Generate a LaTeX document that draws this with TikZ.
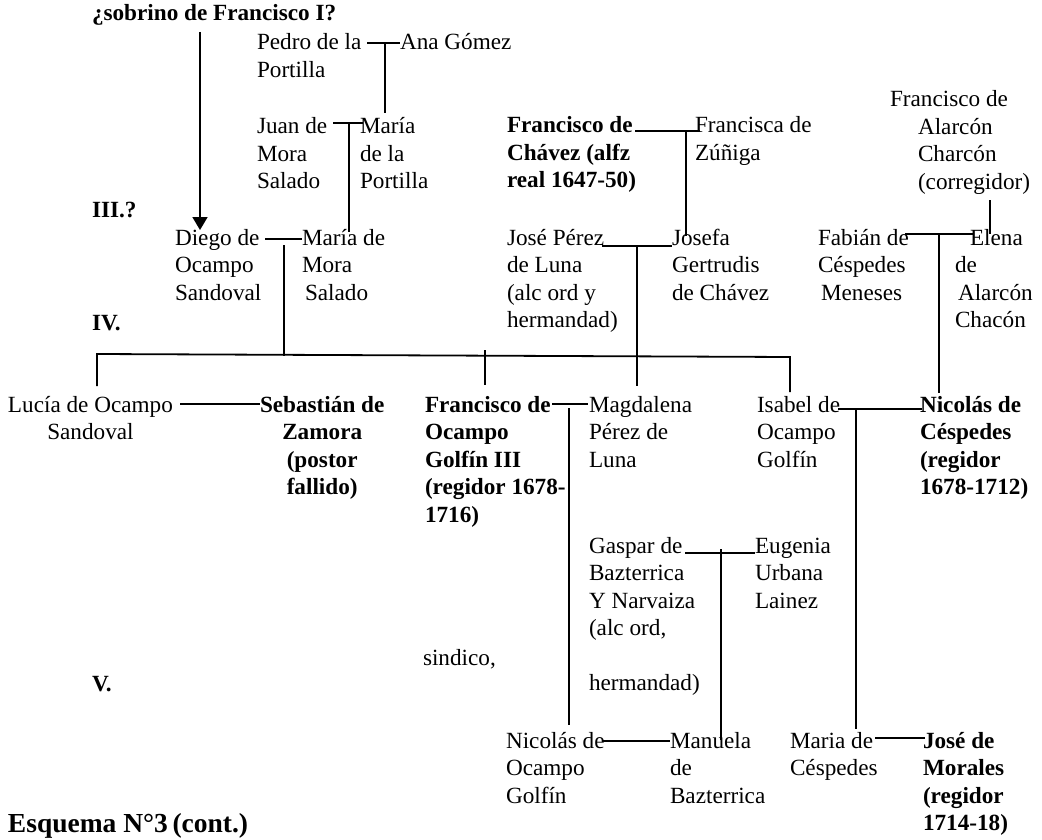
\documentclass[tikz,border=0pt]{standalone}
\usepackage{fontspec}
\setmainfont{Liberation Serif}
\usetikzlibrary{arrows.meta}
\newcommand\firstln{\rule{0pt}{20pt}}
\begin{document}
\begin{tikzpicture}[x=1pt,y=-1pt,
  link/.style={line width=1.8pt,black},
]
\useasboundingbox (0,0) rectangle (1042,840);

\begin{scope}[every node/.style={inner sep=0pt,outer sep=0pt,anchor=north west,yshift=20pt,align=left,
    font=\fontsize{23.2}{27.5}\selectfont},
  bnode/.style={font=\fontsize{23.2}{27.5}\selectfont\bfseries},
  cnode/.style={align=center}]
% generation labels
\node[bnode] (sob) at (92,21) {\firstln¿sobrino de Francisco I?};
\node[bnode] (gIII) at (92,217) {\firstln III.?};
\node[bnode] (gIV) at (92,330) {\firstln IV.};
\node[bnode] (gV) at (92,691) {\firstln V.};
\node[font=\fontsize{27.5}{30}\selectfont\bfseries] (esq) at (8,832) {\firstln Esquema N°3\,(cont.)};

% persons
\node (pedro) at (257,50) {\firstln Pedro de la\\Portilla};
\node (ana) at (400,50) {\firstln Ana Gómez};
\node (juan) at (257,134) {\firstln Juan de\\Mora\\Salado};
\node (mariaP) at (360,134) {\firstln María\\de la\\Portilla};
\node (diego) at (175,245) {\firstln Diego de\\Ocampo\\Sandoval};
\node (mariaM) at (302,245) {\firstln María de\\Mora\\\hspace*{3pt}Salado};
\node[bnode] (fchavez) at (507,133) {\firstln Francisco de\\Chávez (alfz\\real 1647-50)};
\node (francisca) at (695,133) {\firstln Francisca de\\Zúñiga};
\node (jose) at (507,245) {\firstln José Pérez\\de Luna\\(alc ord y\\hermandad)};
\node (josefa) at (672,245) {\firstln Josefa\\Gertrudis\\de Chávez};
\node (falarcon) at (890,107) {\firstln Francisco de\\\hspace*{28pt}Alarcón\\\hspace*{28pt}Charcón\\\hspace*{28pt}(corregidor)};
\node (fabian) at (818,245) {\firstln Fabián de\\Céspedes\\\hspace*{3pt}Meneses};
\node (elena) at (955,245) {\firstln\hspace*{15pt}Elena\\de\\\hspace*{3pt}Alarcón\\Chacón};
\node[cnode] (lucia) at (8,412) {\firstln Lucía de Ocampo\\Sandoval};
\node[bnode,cnode] (sebastian) at (260,412) {\firstln Sebastián de\\Zamora\\(postor\\fallido)};
\node[bnode] (focampo) at (425,412) {\firstln Francisco de\\Ocampo\\Golfín III\\(regidor 1678-\\1716)};
\node (magdalena) at (589,412) {\firstln Magdalena\\Pérez de\\Luna};
\node (isabel) at (757,412) {\firstln Isabel de\\Ocampo\\Golfín};
\node[bnode] (nicolasC) at (920,412) {\firstln Nicolás de\\Céspedes\\(regidor\\1678-1712)};
\node (gaspar) at (589,553) {\firstln Gaspar de\\Bazterrica\\Y Narvaiza\\(alc ord,\\[27.5pt]hermandad)};
\node (eugenia) at (755,553) {\firstln Eugenia\\Urbana\\Lainez};
\node (sindico) at (423,665) {\firstln sindico,};
\node (nicolasO) at (506,748) {\firstln Nicolás de\\Ocampo\\Golfín};
\node (manuela) at (670,748) {\firstln Manuela\\de\\Bazterrica};
\node (mariaC) at (790,748) {\firstln Maria de\\Céspedes};
\node[bnode] (josem) at (923,748) {\firstln José de\\Morales\\(regidor\\1714-18)};
\end{scope}

% arrow
\coordinate (arrS) at (200,32);
\coordinate (arrE) at (200,230);
\draw[link,-{Triangle[length=13pt,width=15pt]}] (arrS) -- (arrE);

% Pedro -- Ana
\coordinate (pa1) at (367,43); \coordinate (pa2) at (400,43); \coordinate (pa) at (385,43);
\coordinate (paE) at (385,113);
\draw[link] (pa1) -- (pa2);
\draw[link] (pa) -- (paE);

% Juan -- Maria
\coordinate (jm1) at (333,123); \coordinate (jm2) at (363,123); \coordinate (jm) at (349,123);
\coordinate (jmE) at (349,232);
\draw[link] (jm1) -- (jm2);
\draw[link] (jm) -- (jmE);

% Diego -- Maria
\coordinate (dm1) at (265,239); \coordinate (dm2) at (302,239); \coordinate (dm) at (284,245);
\coordinate (dmE) at (284,356);
\draw[link] (dm1) -- (dm2);
\draw[link] (dm) -- (dmE);

% siblings
\coordinate (sL) at (97,386); \coordinate (sLt) at (97,354);
\coordinate (sRt) at (790,357); \coordinate (sR) at (790,392);
\draw[link] (sL) -- (sLt) -- (sRt) -- (sR);
\coordinate (sF) at (485,350); \coordinate (sFE) at (485,385);
\draw[link] (sF) -- (sFE);

% Chavez -- Francisca
\coordinate (cf1) at (635,131); \coordinate (cf2) at (700,131); \coordinate (cf) at (686,131);
\coordinate (cfE) at (686,236);
\draw[link] (cf1) -- (cf2);
\draw[link] (cf) -- (cfE);

% Jose -- Josefa
\coordinate (jj1) at (602,246); \coordinate (jj2) at (672,246); \coordinate (jj) at (637,246);
\coordinate (jjE) at (637,386);
\draw[link] (jj1) -- (jj2);
\draw[link] (jj) -- (jjE);

% Alarcon
\coordinate (al) at (990,200); \coordinate (alE) at (990,234);
\draw[link] (al) -- (alE);

% Fabian -- Elena
\coordinate (fe1) at (905,234); \coordinate (fe2) at (973,234); \coordinate (fe) at (939,234);
\coordinate (feE) at (939,393);
\draw[link] (fe1) -- (fe2);
\draw[link] (fe) -- (feE);

% Lucia -- Sebastian
\coordinate (ls1) at (180,404); \coordinate (ls2) at (260,404);
\draw[link] (ls1) -- (ls2);

% Francisco -- Magdalena
\coordinate (fm1) at (552,404); \coordinate (fm2) at (588,404); \coordinate (fm) at (569,408);
\coordinate (fmE) at (569,725);
\draw[link] (fm1) -- (fm2);
\draw[link] (fm) -- (fmE);

% Isabel -- Nicolas
\coordinate (in1) at (838,409); \coordinate (in2) at (922,409); \coordinate (in) at (856,409);
\coordinate (inE) at (856,729);
\draw[link] (in1) -- (in2);
\draw[link] (in) -- (inE);

% Gaspar -- Eugenia
\coordinate (ge1) at (685,553); \coordinate (ge2) at (755,553); \coordinate (ge) at (721,549);
\coordinate (geE) at (721,740);
\draw[link] (ge1) -- (ge2);
\draw[link] (ge) -- (geE);

% Nicolas -- Manuela
\coordinate (nm1) at (603,741); \coordinate (nm2) at (670,741);
\draw[link] (nm1) -- (nm2);

% Maria -- Jose
\coordinate (mj1) at (875,738); \coordinate (mj2) at (925,738);
\draw[link] (mj1) -- (mj2);
\end{tikzpicture}
\end{document}
